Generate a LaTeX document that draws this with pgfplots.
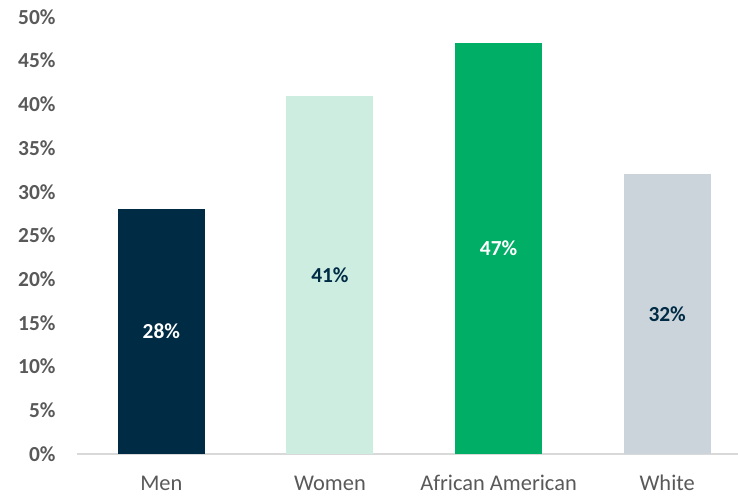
\documentclass[border=0pt]{standalone}
\usepackage{pgfplots}
\pgfplotsset{compat=1.18}
\usepackage{fontspec}
\setmainfont{Carlito}

\definecolor{barnavy}{HTML}{002B45}
\definecolor{barmint}{HTML}{CCEDE0}
\definecolor{bargreen}{HTML}{00AE65}
\definecolor{bargray}{HTML}{CCD4DB}
\definecolor{txtgray}{HTML}{595959}
\definecolor{axisgray}{HTML}{D9D9D9}

\begin{document}
\begin{tikzpicture}
\begin{axis}[
    at={(0,0)}, anchor=south west,
    scale only axis,
    width=661bp, height=437bp,
    xmin=-0.5, xmax=3.42,
    ymin=0, ymax=50,
    ybar, bar width=87bp, bar shift=0pt,
    axis line style={draw=none},
    major tick length=0pt,
    ytick={0,5,...,50},
    yticklabel={\pgfmathprintnumber{\tick}\%},
    yticklabel style={font=\fontsize{21.5}{24}\selectfont\bfseries, color=txtgray, xshift=-18bp},
    /pgf/number format/assume math mode=true,
    xtick={0,1,2,3},
    xticklabels={Men,Women,African American,White},
    xticklabel style={font=\fontsize{22.5}{26}\selectfont, color=txtgray, anchor=base, yshift=-36bp},
    nodes near coords={\pgfmathprintnumber{\pgfplotspointmeta}\%},
    every node near coord/.append style={font=\fontsize{21.5}{24}\selectfont\bfseries, anchor=center},
    clip=false,
]
% baseline
\draw[draw=axisgray, line width=1.5pt] (axis cs:-0.5,0) -- (axis cs:3.42,0);

% bars
\addplot[fill=barnavy, draw=none, nodes near coords={}] coordinates {(0,28)};
\addplot[fill=barmint, draw=none, nodes near coords={}] coordinates {(1,41)};
\addplot[fill=bargreen, draw=none, nodes near coords={}] coordinates {(2,47)};
\addplot[fill=bargray, draw=none, nodes near coords={}] coordinates {(3,32)};

% value labels at bar mid-height
\addplot[draw=none, fill=none, point meta=explicit, every node near coord/.append style={color=white}]
    coordinates {(0,14)[28] (2,23.5)[47]};
\addplot[draw=none, fill=none, point meta=explicit, every node near coord/.append style={color=barnavy}]
    coordinates {(1,20.5)[41] (3,16)[32]};
\end{axis}
\pgfresetboundingbox
\path[use as bounding box] (-77bp,-42bp) rectangle (661bp,454bp);
\end{tikzpicture}
\end{document}
